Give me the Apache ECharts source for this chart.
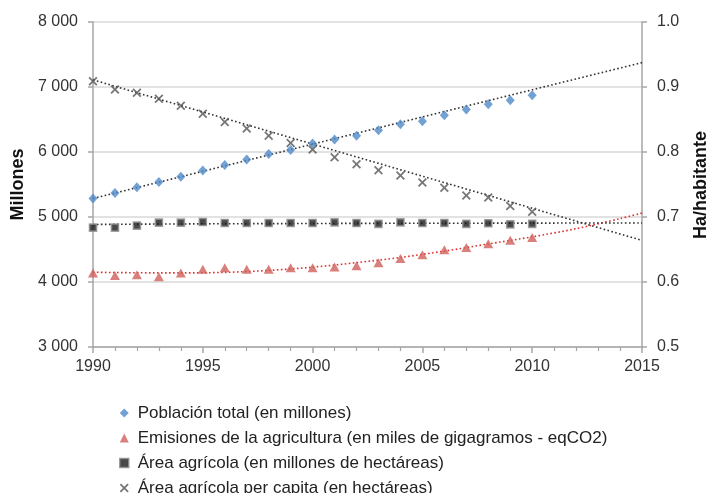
<!DOCTYPE html>
<html>
<head>
<meta charset="utf-8">
<script src="https://cdn.jsdelivr.net/npm/echarts@6/dist/echarts.min.js"></script>
<style>html,body{margin:0;padding:0;background:#fff}#c{width:709px;height:493px}</style>
</head>
<body>
<div id="c"></div>
<script>
var years = [1990,1991,1992,1993,1994,1995,1996,1997,1998,1999,2000,2001,2002,2003,2004,2005,2006,2007,2008,2009,2010];
var poblacion = [5283,5369,5457,5538,5621,5714,5800,5883,5969,6030,6129,6191,6250,6334,6426,6475,6565,6652,6734,6795,6872];
var emisiones = [4138,4100,4110,4080,4138,4195,4221,4195,4195,4221,4221,4231,4250,4298,4360,4421,4498,4529,4590,4642,4683];
var area = [4837,4837,4867,4913,4913,4923,4908,4908,4908,4908,4908,4918,4908,4895,4918,4908,4908,4895,4903,4887,4895];
var perCapita = [0.909,0.896,0.891,0.882,0.871,0.859,0.846,0.836,0.825,0.814,0.804,0.792,0.781,0.772,0.764,0.753,0.745,0.733,0.730,0.717,0.708];

var trendYearsLin = [1990, 2015];
var poblacionTrend = [5285, 7375];
var perCapitaTrend = [0.911, 0.664];
var trendYears = [1990,1992,1994,1996,1998,2000,2002,2004,2006,2008,2010,2012,2014,2015];
var emisionesTrend = [4150,4142,4140,4148,4178,4228,4298,4378,4475,4585,4695,4820,4975,5060];
var areaTrend = [4885,4890,4893,4896,4898,4900,4902,4903,4904,4905,4906,4907,4908,4908];

var xTicks = [1990, 1995, 2000, 2005, 2010, 2015];
var leftTicks = [3000, 4000, 5000, 6000, 7000, 8000];
var rightTicks = [0.5, 0.6, 0.7, 0.8, 0.9, 1.0];

var names = [
  'Población total (en millones)',
  'Emisiones de la agricultura (en miles de gigagramos - eqCO2)',
  'Área agrícola (en millones de hectáreas)',
  'Área agrícola per capita (en hectáreas)'
];

function pairs(xs, ys){ return xs.map(function(x,i){ return [x, ys[i]]; }); }
var xPath = 'path://M0,1.4L1.4,0L5,3.6L8.6,0L10,1.4L6.4,5L10,8.6L8.6,10L5,6.4L1.4,10L0,8.6L3.6,5Z';

var chart = echarts.init(document.getElementById('c'), null, {renderer:'canvas'});
var FONT = 'Liberation Sans, Arial, sans-serif';
var axisLbl = {color:'#333', fontSize:16, fontFamily:FONT};
var option = {
  animation: false,
  grid: {left: 93, right: 67, top: 22, bottom: 146, containLabel: false, outerBoundsMode: 'none'},
  graphic: [{
    type: 'text', x: 701, y: 185, rotation: Math.PI / 2,
    style: {text: 'Ha/habitante', fontSize: 18, fontWeight: 'bold', fill: '#111', fontFamily: FONT, align: 'center', verticalAlign: 'middle'}
  }],
  legend: {
    orient: 'vertical', left: 114, top: 398, height: 140,
    itemWidth: 9, itemHeight: 9, itemGap: 5,
    textStyle: {color:'#222', fontSize:17, lineHeight:20, fontFamily:FONT, padding:[0,0,0,4]},
    data: [
      {name: names[0], icon: 'diamond', itemStyle:{color:'#4f8ac9'}},
      {name: names[1], icon: 'triangle', itemStyle:{color:'#cf5f5b'}},
      {name: names[2], icon: 'rect', itemStyle:{color:'#1a1a1a', borderColor:'#8c8c8c', borderWidth:1.5}},
      {name: names[3], icon: xPath, itemStyle:{color:'#555'}}
    ]
  },
  xAxis: {
    type: 'value', min: 1990, max: 2015, interval: 5,
    axisLine: {show:true, lineStyle:{color:'#a6a6a6', width:1.5}},
    axisTick: {show:true, length:6, lineStyle:{color:'#a6a6a6', width:1.5}},
    minorTick: {show:true, splitNumber:5, length:4, lineStyle:{color:'#a6a6a6', width:1.2}},
    splitLine: {show:false},
    axisLabel: Object.assign({margin:12, formatter: function(v){ return xTicks.indexOf(v) >= 0 ? String(v) : ''; }}, axisLbl)
  },
  yAxis: [
    {
      type: 'value', min: 3000, max: 8000, interval: 1000, position: 'left',
      name: 'Millones', nameLocation: 'middle', nameGap: 66, nameRotate: 90,
      nameTextStyle: {fontSize:18, fontWeight:'bold', color:'#111', fontFamily:FONT},
      axisLine: {show:true, lineStyle:{color:'#a6a6a6', width:1.5}},
      axisTick: {show:true, length:5, lineStyle:{color:'#a6a6a6', width:1.5}},
      splitLine: {show:true, lineStyle:{color:'#d9d9d9', width:1.5}},
      axisLabel: Object.assign({margin:15, formatter: function(v){ return leftTicks.indexOf(v) >= 0 ? String(v).replace(/\B(?=(\d{3})+(?!\d))/g, ' ') : ''; }}, axisLbl)
    },
    {
      type: 'value', min: 0.5, max: 1.0, interval: 0.1, position: 'right',
      axisLine: {show:true, lineStyle:{color:'#a6a6a6', width:1.5}},
      axisTick: {show:true, length:5, lineStyle:{color:'#a6a6a6', width:1.5}},
      splitLine: {show:false},
      axisLabel: Object.assign({margin:15, formatter: function(v){ return v.toFixed(1); }}, axisLbl)
    }
  ],
  series: [
    {name:'popTrend', type:'line', yAxisIndex:0, data: pairs(trendYearsLin, poblacionTrend), showSymbol:false, symbol:'none', silent:true, z:1,
      lineStyle:{color:'#333', width:1.6, type:[1.6,2.4]}},
    {name:'emTrend', type:'line', yAxisIndex:0, data: pairs(trendYears, emisionesTrend), smooth:0.3, symbol:'none', silent:true, z:1,
      lineStyle:{color:'#e0322e', width:1.6, type:[1.6,2.4]}},
    {name:'areaTrend', type:'line', yAxisIndex:0, data: pairs(trendYears, areaTrend), smooth:0.3, symbol:'none', silent:true, z:1,
      lineStyle:{color:'#333', width:1.6, type:[1.6,2.4]}},
    {name:'pcTrend', type:'line', yAxisIndex:1, data: pairs(trendYearsLin, perCapitaTrend), symbol:'none', silent:true, z:1,
      lineStyle:{color:'#333', width:1.6, type:[1.6,2.4]}},
    {name: names[0], type:'scatter', yAxisIndex:0, data: pairs(years, poblacion), symbol:'diamond', symbolSize:[9,10], z:3,
      itemStyle:{color:'#4f8ac9'}},
    {name: names[1], type:'scatter', yAxisIndex:0, data: pairs(years, emisiones), symbol:'triangle', symbolSize:[10,9], z:3,
      itemStyle:{color:'#cf5f5b'}},
    {name: names[2], type:'scatter', yAxisIndex:0, data: pairs(years, area), symbol:'rect', symbolSize:7, z:3,
      itemStyle:{color:'#1a1a1a', borderColor:'#8c8c8c', borderWidth:1.6}},
    {name: names[3], type:'scatter', yAxisIndex:1, data: pairs(years, perCapita), symbol:xPath, symbolSize:9, z:3,
      itemStyle:{color:'#555'}}
  ]
};
chart.setOption(option);
</script>
</body>
</html>
